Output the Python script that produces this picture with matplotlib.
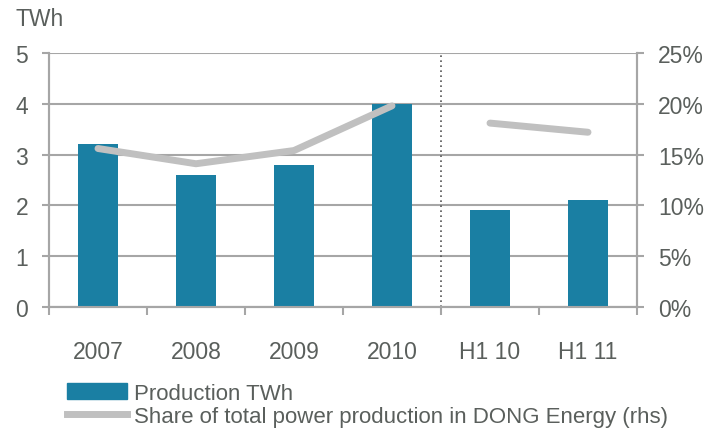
import numpy as np
import matplotlib.pyplot as plt
from matplotlib.lines import Line2D
from matplotlib.patches import Patch

categories = ['2007', '2008', '2009', '2010', 'H1 10', 'H1 11']
production = [3.2, 2.6, 2.8, 4.0, 1.9, 2.1]
share = [15.6, 14.1, 15.4, 19.8, 18.1, 17.2]

bar_col = '#1a7fa3'
line_col = '#c0c0c0'
grid_col = '#a6a6a6'
txt_col = '#5a5f5c'

plt.rcParams['font.family'] = ['Liberation Sans', 'DejaVu Sans']
plt.rcParams['font.size'] = 16.5

fig = plt.figure(figsize=(7.14, 4.31), dpi=100)
ax = fig.add_axes([49/714, 123/431, 588/714, 254/431])
ax2 = ax.twinx()

x = np.arange(len(categories))
ax.bar(x, production, width=0.4, color=bar_col, zorder=3)

# line broken between full years and half years
ax2.plot(x[:4], share[:4], color=line_col, lw=5, solid_capstyle='round', solid_joinstyle='round', zorder=4)
ax2.plot(x[4:], share[4:], color=line_col, lw=5, solid_capstyle='round', zorder=4)

ax.set_xlim(-0.5, 5.5)
ax.set_ylim(0, 5)
ax2.set_ylim(0, 25)
ax.set_yticks(range(6))
ax2.set_yticks(range(0, 30, 5))
ax2.set_yticklabels([f'{v}%' for v in range(0, 30, 5)])

ax.yaxis.grid(True, color=grid_col, lw=1.5, zorder=0)
ax.set_axisbelow(True)
ax.axvline(3.5, color='#555555', lw=1.2, ls=(0, (1, 2)), zorder=2)

ax.set_xticks(np.arange(-0.5, 6, 1), minor=False)
ax.set_xticklabels([])
ax.set_xticks(x, minor=True)
ax.set_xticklabels(categories, minor=True)
ax.tick_params(axis='x', which='major', length=6, width=1.5, color=grid_col, direction='out')
ax.tick_params(axis='x', which='minor', length=0, pad=24, colors=txt_col)
ax.tick_params(axis='y', length=5, width=1.5, color=grid_col, pad=10, labelcolor=txt_col)
ax2.tick_params(axis='y', length=5, width=1.5, color=grid_col, pad=10, labelcolor=txt_col)

for a in (ax, ax2):
    a.spines['top'].set_visible(False)
    for s in ('left', 'right', 'bottom'):
        a.spines[s].set_color(grid_col)
        a.spines[s].set_linewidth(1.5)

fig.text(15/714, 1 - 20/431, 'TWh', color=txt_col, fontsize=16.5, va='center', ha='left')

handles = [Patch(color=bar_col), Line2D([], [], color=line_col, lw=5)]
labels = ['Production TWh', 'Share of total power production in DONG Energy (rhs)']
leg = fig.legend(handles, labels, loc='upper left', bbox_to_anchor=(58/714, 1 - 375/431),
                 frameon=False, handlelength=2.7, handletextpad=0.3, labelspacing=0.1,
                 borderaxespad=0, fontsize=16)
for t in leg.get_texts():
    t.set_color(txt_col)

fig.savefig('out.png', dpi=100)
